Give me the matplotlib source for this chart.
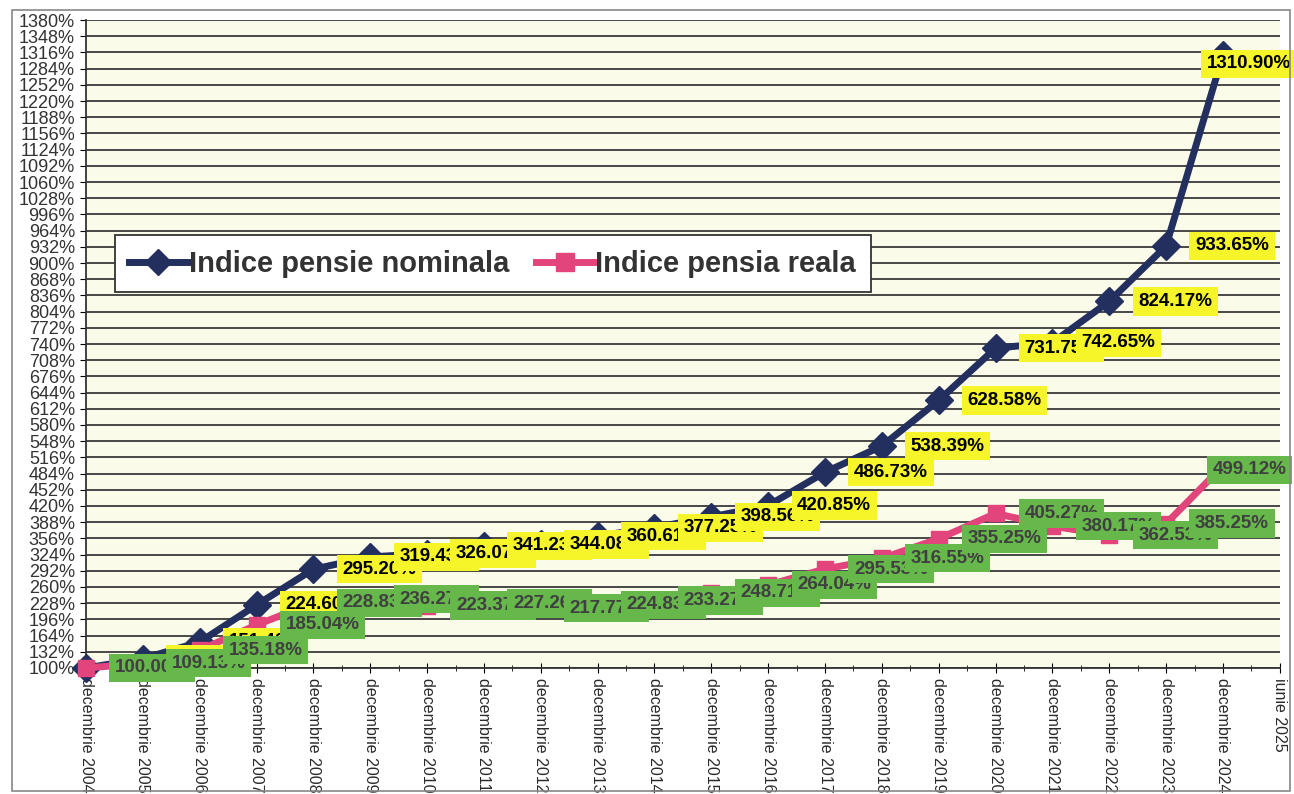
# Indice pensie nominala vs. pensie reala, 2004 - 2025

import matplotlib.pyplot as plt
from matplotlib.patches import Rectangle
from matplotlib.lines import Line2D

ani = [2004 + i for i in range(21)]
categorii = ["decembrie %d" % a for a in ani] + ["iunie 2025"]

# valori (%), ultimele cifre ascunse sunt estimate
nominal = [100.00, 118.50, 151.40, 224.60, 295.20, 319.43, 326.07, 341.23, 344.08, 360.61,
           377.25, 398.56, 420.85, 486.73, 538.39, 628.58, 731.75, 742.65, 824.17, 933.65,
           1310.90]
reala = [100.00, 109.13, 135.18, 185.04, 228.83, 236.27, 223.37, 227.26, 217.77, 224.83,
         233.27, 248.71, 264.04, 295.53, 316.55, 355.25, 405.27, 380.17, 362.53, 385.25,
         499.12]

y_ticks = list(range(100, 1381, 32))

albastru = "#232f5e"
roz = "#e2457c"
galben = "#f6f52a"
verde = "#67b84b"

fig = plt.figure(figsize=(12.94, 7.94), dpi=100)
fig.patch.set_facecolor("white")
fig.add_artist(Rectangle((0.009, 0.004), 0.988, 0.983, transform=fig.transFigure,
                         fill=False, edgecolor="#888888", lw=1.2))

ax = fig.add_axes([0.0665, 0.1587, 0.9225, 0.8161])
ax.set_facecolor("#fbfbea")

x = list(range(len(nominal)))
ax.plot(x, nominal, color=albastru, lw=5, marker="D", markersize=14,
        markerfacecolor=albastru, markeredgecolor=albastru, zorder=3, clip_on=False)
ax.plot(x, reala, color=roz, lw=5, marker="s", markersize=12,
        markerfacecolor=roz, markeredgecolor=roz, zorder=4, clip_on=False)

ax.set_xlim(0, len(categorii) - 1)
ax.set_ylim(100, 1380)
ax.set_yticks(y_ticks)
ax.set_yticklabels(["%d%%" % v for v in y_ticks])
ax.set_xticks(range(len(categorii)))
ax.set_xticklabels(categorii, rotation=270)
ax.set_xticks([i + 0.5 for i in range(len(categorii) - 1)], minor=True)

ax.grid(axis="y", color="#3a3a3a", lw=1.3, zorder=1)
ax.set_axisbelow(True)
for s in ["top", "right"]:
    ax.spines[s].set_visible(False)
ax.spines["left"].set_color("#333333")
ax.spines["bottom"].set_color("#333333")
ax.spines["left"].set_linewidth(1.3)
ax.spines["bottom"].set_linewidth(1.3)

ax.tick_params(axis="y", labelsize=13, labelcolor="#333333", length=4, pad=4)
ax.tick_params(axis="x", which="major", labelsize=11.5, labelcolor="#2a2a2a",
               direction="inout", length=7, pad=4)
ax.tick_params(axis="x", which="minor", direction="inout", length=5)
for lab in ax.get_yticklabels() + ax.get_xticklabels():
    lab.set_fontfamily("Liberation Sans")

# etichete de date: galben pentru nominal, verde pentru real (desenate peste)
def eticheta(i, v, fundal, culoare, z, ultim):
    dx, dy = 29, 0
    if i == len(nominal) - 1:
        dx, dy = ultim
    ax.annotate("%.2f%%" % v, (i, v), xytext=(dx, dy), textcoords="offset pixels",
                ha="left", va="center", fontsize=13.5, fontweight="bold",
                family="Liberation Sans", color=culoare, zorder=z,
                annotation_clip=False,
                bbox=dict(boxstyle="square,pad=0.3", facecolor=fundal, edgecolor="none"))

for i, v in enumerate(nominal):
    eticheta(i, v, galben, "black", 6, (-16, -9))
for i, v in enumerate(reala):
    eticheta(i, v, verde, "#404040", 7, (-10, -4))

h1 = Line2D([], [], color=albastru, lw=5, marker="D", markersize=13)
h2 = Line2D([], [], color=roz, lw=5, marker="s", markersize=13)
leg = ax.legend([h1, h2], ["Indice pensie nominala", "Indice pensia reala"],
                loc="upper left", bbox_to_anchor=(0.024, 0.668), ncol=2,
                prop={"family": "Liberation Sans", "weight": "bold", "size": 21},
                frameon=True, fancybox=False, framealpha=1, edgecolor="#333333",
                handlelength=2.0, handletextpad=0.05, columnspacing=0.9,
                borderpad=0.5, borderaxespad=0)
leg.get_frame().set_linewidth(1.3)
for t in leg.get_texts():
    t.set_color("#333333")
leg.set_zorder(8)

plt.savefig("out.png", dpi=100)
